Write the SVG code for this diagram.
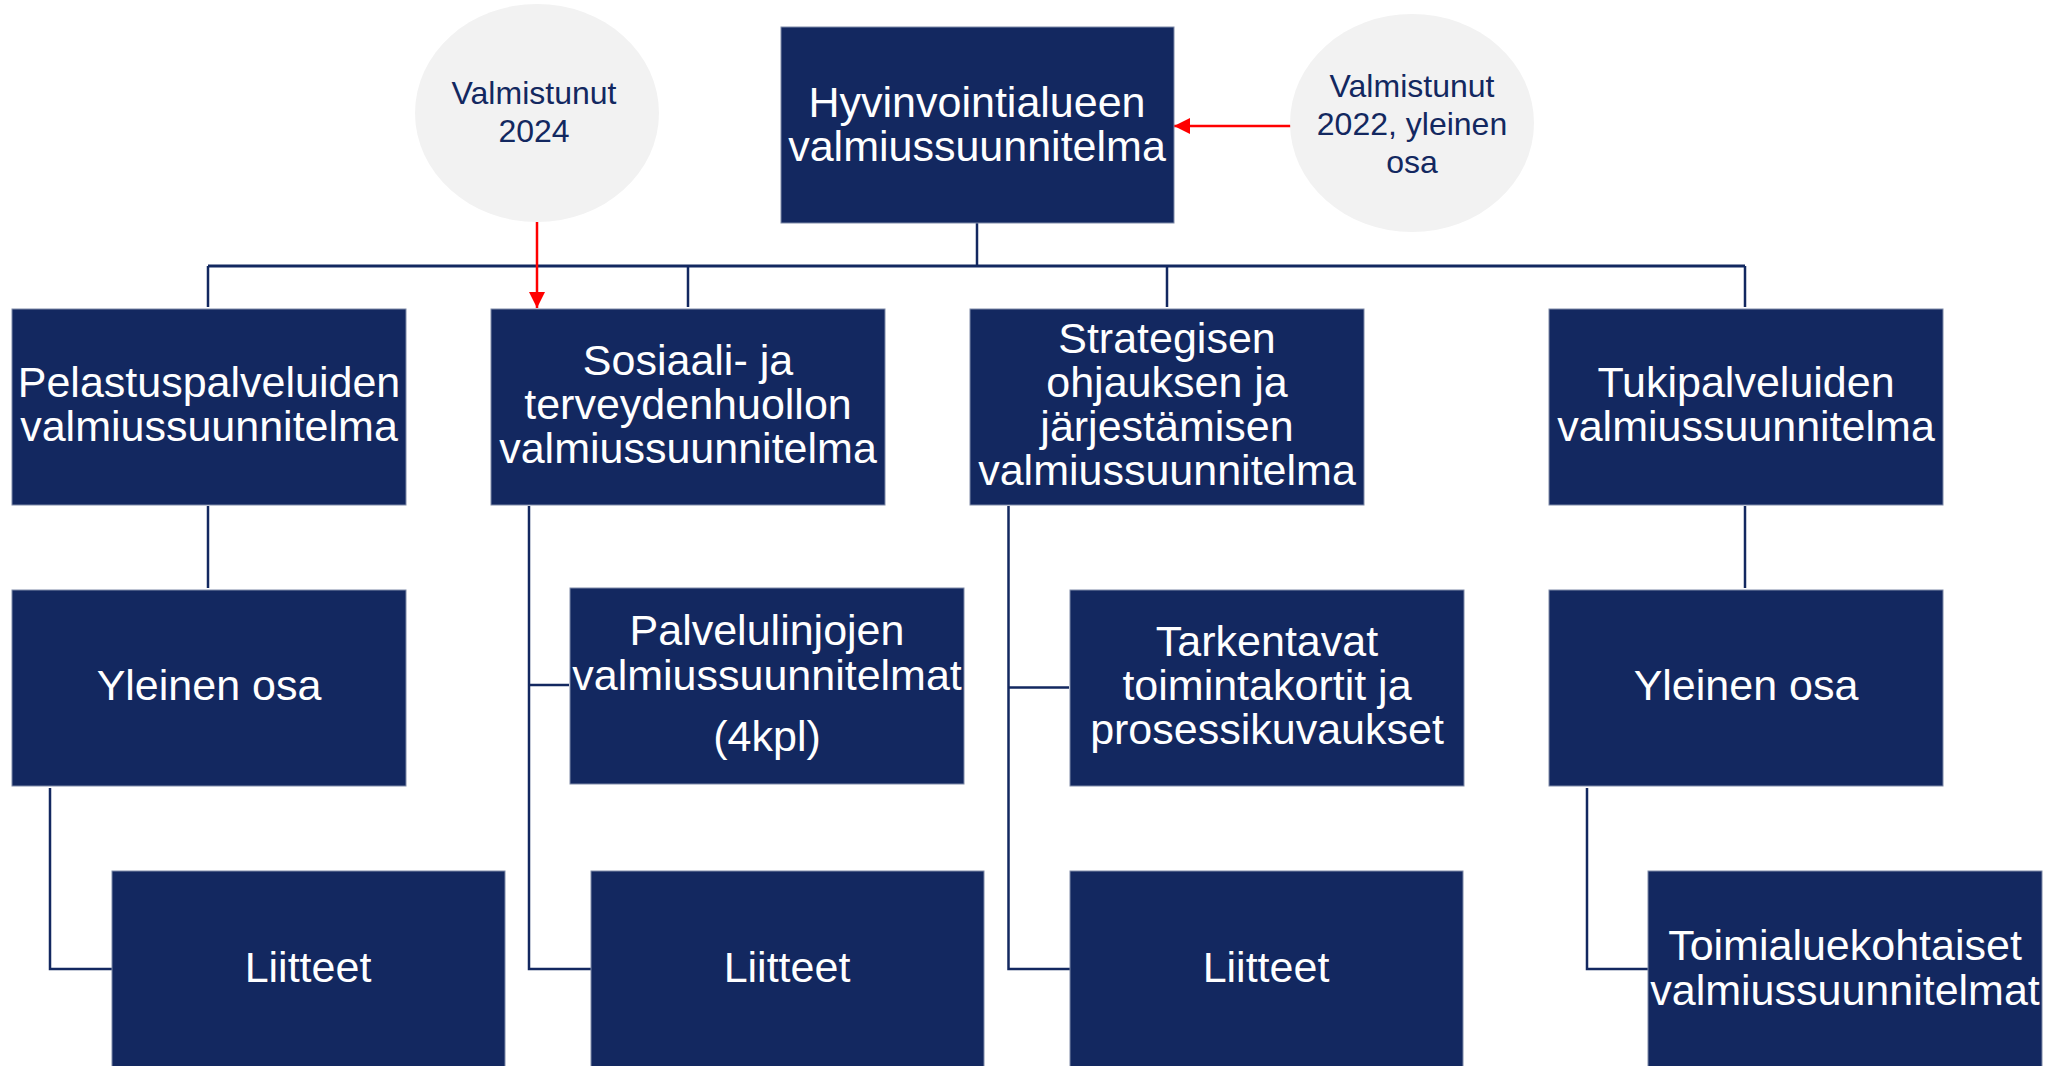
<svg xmlns="http://www.w3.org/2000/svg" width="2047" height="1066" viewBox="0 0 2047 1066">
<defs>
<style>
.box{fill:#132860;stroke:#7f8aa8;stroke-width:1}
.bt{fill:#ffffff;font-family:"Liberation Sans",Arial,sans-serif;font-size:43px;text-anchor:middle}
.ell{fill:#f2f2f2}
.et{fill:#132860;font-family:"Liberation Sans",Arial,sans-serif;font-size:32px;text-anchor:middle}
.ln{fill:none;stroke:#132860;stroke-width:2.5}
.red{fill:none;stroke:#ff0000;stroke-width:2.5}
</style>
<marker id="ah" viewBox="0 0 10 10" refX="10" refY="5" markerWidth="16" markerHeight="16" markerUnits="userSpaceOnUse" orient="auto">
<path d="M0,0 L10,5 L0,10 Z" fill="#ff0000"/>
</marker>
</defs>
<rect width="2047" height="1066" fill="#ffffff"/>
<g id="connectors">
<path class="ln" d="M977,223 V266"/>
<path class="ln" style="stroke-width:3" d="M208,266 H1745"/>
<path class="ln" d="M208,266 V307 M688,266 V307 M1167,266 V307 M1745,266 V307"/>
<path class="ln" d="M208,506 V588"/>
<path class="ln" d="M1745,506 V588"/>
<path class="ln" d="M529,506 V969 H591 M529,685 H569"/>
<path class="ln" d="M1008.5,506 V969 H1070 M1008.5,687.5 H1069"/>
<path class="ln" d="M50,788 V969 H112"/>
<path class="ln" d="M1587,788 V969 H1648"/>
<path class="red" marker-end="url(#ah)" d="M537,222 V308"/>
<path class="red" marker-end="url(#ah)" d="M1291,126 H1174"/>
</g>
<g id="n-top">
<rect class="box" x="781" y="27" width="393" height="196"/>
<text class="bt" x="977" y="117">Hyvinvointialueen</text>
<text class="bt" x="977" y="161">valmiussuunnitelma</text>
</g>
<g id="e-2024">
<ellipse class="ell" cx="537" cy="113" rx="122" ry="109"/>
<text class="et" x="534" y="104">Valmistunut</text>
<text class="et" x="534" y="142">2024</text>
</g>
<g id="e-2022">
<ellipse class="ell" cx="1412" cy="123" rx="122" ry="109"/>
<text class="et" x="1412" y="97">Valmistunut</text>
<text class="et" x="1412" y="135">2022, yleinen</text>
<text class="et" x="1412" y="173">osa</text>
</g>
<g id="n-pelastus">
<rect class="box" x="12" y="309" width="394" height="196"/>
<text class="bt" x="209" y="397">Pelastuspalveluiden</text>
<text class="bt" x="209" y="441">valmiussuunnitelma</text>
</g>
<g id="n-sote">
<rect class="box" x="491" y="309" width="394" height="196"/>
<text class="bt" x="688" y="375">Sosiaali- ja</text>
<text class="bt" x="688" y="419">terveydenhuollon</text>
<text class="bt" x="688" y="463">valmiussuunnitelma</text>
</g>
<g id="n-strategia">
<rect class="box" x="970" y="309" width="394" height="196"/>
<text class="bt" x="1167" y="353">Strategisen</text>
<text class="bt" x="1167" y="397">ohjauksen ja</text>
<text class="bt" x="1167" y="441">järjestämisen</text>
<text class="bt" x="1167" y="485">valmiussuunnitelma</text>
</g>
<g id="n-tuki">
<rect class="box" x="1549" y="309" width="394" height="196"/>
<text class="bt" x="1746" y="397">Tukipalveluiden</text>
<text class="bt" x="1746" y="441">valmiussuunnitelma</text>
</g>
<g id="n-yleinen1">
<rect class="box" x="12" y="590" width="394" height="196"/>
<text class="bt" x="209" y="700">Yleinen osa</text>
</g>
<g id="n-palvelulinjat">
<rect class="box" x="570" y="588" width="394" height="196"/>
<text class="bt" x="767" y="645">Palvelulinjojen</text>
<text class="bt" x="767" y="690">valmiussuunnitelmat</text>
<text class="bt" x="767" y="751">(4kpl)</text>
</g>
<g id="n-tarkentavat">
<rect class="box" x="1070" y="590" width="394" height="196"/>
<text class="bt" x="1267" y="656">Tarkentavat</text>
<text class="bt" x="1267" y="700">toimintakortit ja</text>
<text class="bt" x="1267" y="744">prosessikuvaukset</text>
</g>
<g id="n-yleinen2">
<rect class="box" x="1549" y="590" width="394" height="196"/>
<text class="bt" x="1746" y="700">Yleinen osa</text>
</g>
<g id="n-liitteet1">
<rect class="box" x="112" y="871" width="393" height="200"/>
<text class="bt" x="308" y="982">Liitteet</text>
</g>
<g id="n-liitteet2">
<rect class="box" x="591" y="871" width="393" height="200"/>
<text class="bt" x="787" y="982">Liitteet</text>
</g>
<g id="n-liitteet3">
<rect class="box" x="1070" y="871" width="393" height="200"/>
<text class="bt" x="1266" y="982">Liitteet</text>
</g>
<g id="n-toimiala">
<rect class="box" x="1648" y="871" width="394" height="200"/>
<text class="bt" x="1845" y="960">Toimialuekohtaiset</text>
<text class="bt" x="1845" y="1005">valmiussuunnitelmat</text>
</g>
</svg>
